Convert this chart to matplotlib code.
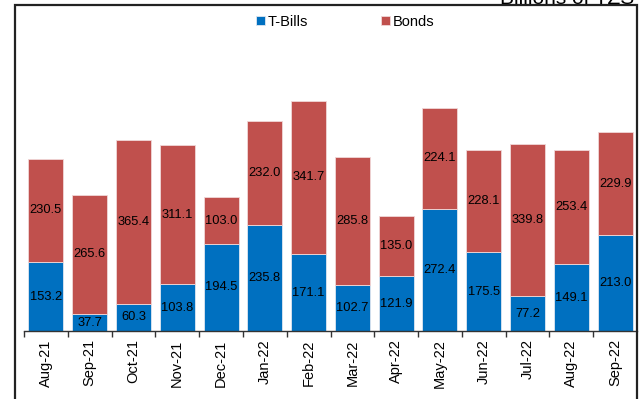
import numpy as np
import matplotlib.pyplot as plt
from matplotlib.patches import Rectangle

plt.rcParams['font.family'] = ['Liberation Sans', 'DejaVu Sans']

months = ["Aug-21", "Sep-21", "Oct-21", "Nov-21", "Dec-21", "Jan-22", "Feb-22",
          "Mar-22", "Apr-22", "May-22", "Jun-22", "Jul-22", "Aug-22", "Sep-22"]
tbills = [153.2, 37.7, 60.3, 103.8, 194.5, 235.8, 171.1,
          102.7, 121.9, 272.4, 175.5, 77.2, 149.1, 213.0]
bonds = [230.5, 265.6, 365.4, 311.1, 103.0, 232.0, 341.7,
         285.8, 135.0, 224.1, 228.1, 339.8, 253.4, 229.9]

blue = "#0070C0"
red = "#C0504D"

W, H = 643, 399
fig = plt.figure(figsize=(W / 100, H / 100), dpi=100)
# axes box in pixels: x 24..637, baseline at y=331, top at ~16.7
ax = fig.add_axes([24 / W, (H - 331) / H, 613 / W, 314.3 / H])

x = np.arange(len(months))
b1 = ax.bar(x, tbills, width=0.8, color=blue, edgecolor="#dfe6f0", linewidth=0.6, label="T-Bills")
b2 = ax.bar(x, bonds, width=0.8, bottom=tbills, color=red, edgecolor="#f0d8d8", linewidth=0.6, label="Bonds")

for i in range(len(months)):
    ax.text(x[i], tbills[i] / 2, f"{tbills[i]:.1f}", ha="center", va="center", fontsize=9.3, color="black")
    ax.text(x[i], tbills[i] + bonds[i] / 2, f"{bonds[i]:.1f}", ha="center", va="center", fontsize=9.3, color="black")

ax.set_xlim(-0.5, len(months) - 0.5)
ax.set_ylim(0, 700)
ax.set_yticks([])
for s in ["top", "right", "left"]:
    ax.spines[s].set_visible(False)
ax.spines["bottom"].set_color("#333333")
ax.spines["bottom"].set_linewidth(1.0)

ax.set_xticks(x)
ax.set_xticklabels(months, rotation=90, fontsize=10.5)
ax.tick_params(axis="x", which="major", length=0, pad=6)
ax.set_xticks(np.arange(len(months)) - 0.5, minor=True)
ax.tick_params(axis="x", which="minor", length=4, color="#333333", width=1)

fig.legend(handles=[b1, b2], loc="center", bbox_to_anchor=(345 / W, 1 - 22 / H), ncol=2,
           frameon=False, fontsize=10.5, handlelength=0.6, handleheight=0.6,
           handletextpad=0.2, columnspacing=5.0)

# unit note sitting on the top edge
fig.text(634 / W, 1 - 4.3 / H, "Billions of TZS", ha="right", va="baseline", fontsize=15)

# outer frame
fig.patches.append(Rectangle((15 / W, -0.05), 621.5 / W, 1.05 - 5.5 / H, transform=fig.transFigure,
                             fill=False, edgecolor="#222222", linewidth=1.6))

fig.savefig("out.png", dpi=100)
